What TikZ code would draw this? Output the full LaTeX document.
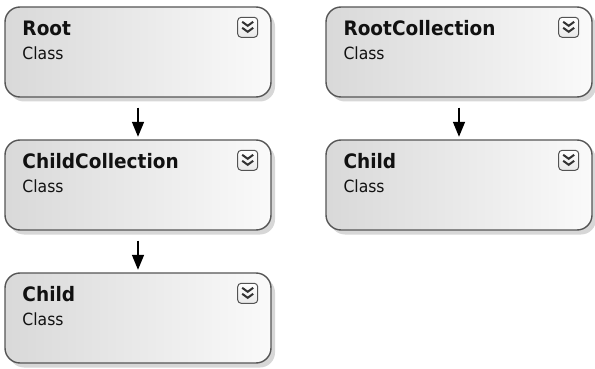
\documentclass[tikz,border=0pt]{standalone}
\usepackage{fontspec}
\setmainfont{DejaVu Sans}[FakeStretch=0.93]
\usetikzlibrary{arrows.meta,calc,shadows}
\definecolor{boxline}{HTML}{555555}
\definecolor{txt}{HTML}{111111}
\tikzset{
  cls/.style={rectangle, rounded corners=15pt, draw=boxline, line width=1.4pt,
    minimum width=266pt, minimum height=90pt, inner sep=0pt,
    left color=gray!30, right color=gray!4,
    drop shadow={shadow xshift=4pt, shadow yshift=-4.5pt, fill=gray!45, opacity=0.7}},
  ttl/.style={anchor=base west, inner sep=0pt, text=txt, font=\fontsize{19.9}{22}\selectfont\bfseries},
  sub/.style={anchor=base west, inner sep=0pt, text=txt, font=\fontsize{16.8}{19}\selectfont},
  expbox/.style={rectangle, rounded corners=3.5pt, draw=gray!65!black, line width=1pt,
    minimum width=20pt, minimum height=20pt, inner sep=0pt, top color=white, bottom color=gray!18},
  assoc/.style={-{Triangle[width=12pt,length=15pt]}, line width=1.5pt, black,
    shorten <=10pt, shorten >=2.5pt},
  pics/expander/.style={code={
    \draw[line width=2pt, black!80, line join=miter]
      (-5.5,-5.5) -- (0,-1.5) -- (5.5,-5.5)
      (-5.5,0.5) -- (0,4.5) -- (5.5,0.5);
  }}
}
\begin{document}
\begin{tikzpicture}[x=1pt,y=-1pt]
\useasboundingbox (0,0) rectangle (595,369);
% boxes
\node[cls] (root) at (138,52) {};
\node[cls] (cc)   at (138,185) {};
\node[cls] (ch1)  at (138,318) {};
\node[cls] (rc)   at (459,52) {};
\node[cls] (ch2)  at (459,185) {};
% texts
\foreach \b/\t in {root/Root, cc/ChildCollection, ch1/Child, rc/RootCollection, ch2/Child}{
  \node[ttl] (\b-t) at ($(\b.north west)+(18,29)$) {\t};
  \node[sub] (\b-s) at ($(\b.north west)+(18,53)$) {Class};
  \node[expbox] (\b-x) at ($(\b.north east)+(-24,21)$) {};
  \pic at (\b-x.center) {expander};
}
% connectors
\draw[assoc] (root) -- (cc);
\draw[assoc] (cc) -- (ch1);
\draw[assoc] (rc) -- (ch2);
\end{tikzpicture}
\end{document}
